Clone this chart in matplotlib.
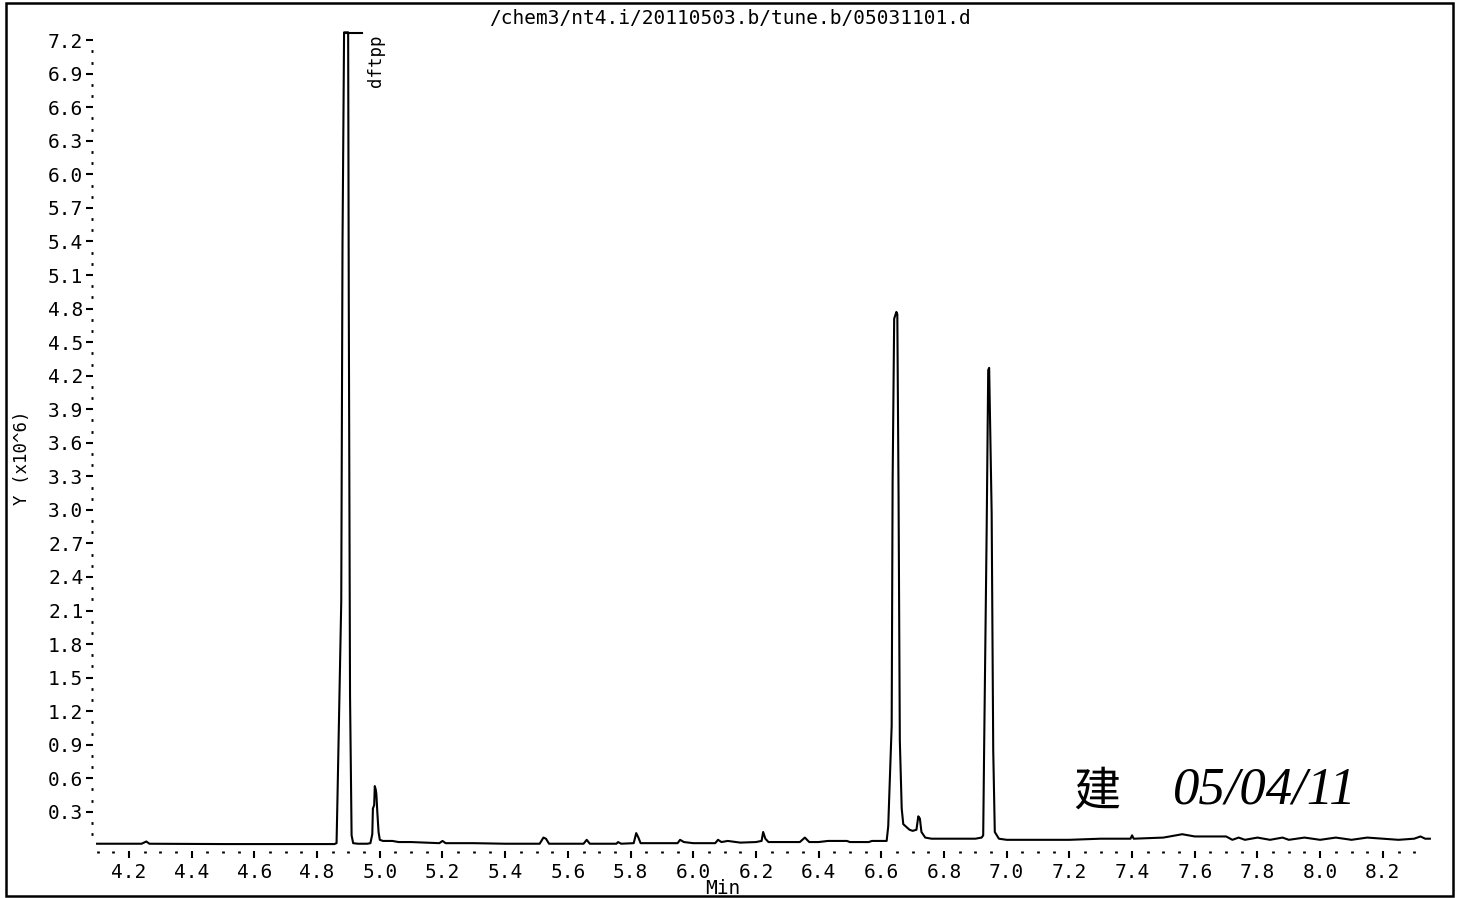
import numpy as np
import matplotlib
matplotlib.use("Agg")
import matplotlib.pyplot as plt
from matplotlib.patches import Rectangle

plt.rcParams['font.family'] = ['DejaVu Sans Mono', 'Noto Sans CJK SC']

# retention time (min) and abundance (x10^6)
rt = [4.098, 4.150, 4.240, 4.255, 4.265, 4.500, 4.700, 4.855,
      4.862, 4.865, 4.877, 4.881, 4.886, 4.899, 4.901, 4.905, 4.910, 4.915, 4.930, 4.960,
      4.970, 4.976, 4.978, 4.982, 4.984, 4.987, 4.989, 4.992, 4.996, 5.000,
      5.010, 5.040, 5.060, 5.100, 5.190, 5.200, 5.210, 5.300, 5.400,
      5.510, 5.522, 5.530, 5.540, 5.650, 5.660, 5.670, 5.755, 5.760, 5.770,
      5.810, 5.818, 5.825, 5.832, 5.950, 5.958, 5.970, 6.000, 6.070, 6.079, 6.090,
      6.110, 6.150, 6.200, 6.218, 6.223, 6.230, 6.240, 6.340, 6.356, 6.370,
      6.400, 6.430, 6.490, 6.500, 6.560, 6.570, 6.600, 6.612,
      6.617, 6.622, 6.633, 6.636, 6.641, 6.648, 6.651, 6.655, 6.659, 6.665, 6.670,
      6.690, 6.700, 6.712, 6.718, 6.723, 6.728, 6.740, 6.760, 6.800, 6.850, 6.900, 6.920,
      6.925, 6.928, 6.936, 6.941, 6.944, 6.952, 6.957, 6.962, 6.975,
      7.000, 7.100, 7.200, 7.300, 7.395, 7.400, 7.405, 7.500, 7.540, 7.560, 7.580, 7.600,
      7.700, 7.720, 7.740, 7.760, 7.800, 7.840, 7.880, 7.900, 7.950, 8.000, 8.050,
      8.100, 8.150, 8.200, 8.250, 8.300, 8.320, 8.335, 8.350]
ab = [0.015, 0.015, 0.015, 0.035, 0.015, 0.012, 0.012, 0.012,
      0.02, 0.43, 2.18, 5.38, 7.27, 7.27, 4.87, 1.34, 0.09, 0.02, 0.015, 0.015,
      0.02, 0.10, 0.33, 0.36, 0.53, 0.50, 0.46, 0.30, 0.12, 0.05,
      0.04, 0.04, 0.03, 0.03, 0.02, 0.04, 0.02, 0.02, 0.015,
      0.015, 0.07, 0.06, 0.015, 0.015, 0.05, 0.015, 0.015, 0.03, 0.015,
      0.02, 0.11, 0.07, 0.02, 0.02, 0.05, 0.03, 0.02, 0.02, 0.05, 0.03,
      0.04, 0.025, 0.03, 0.04, 0.12, 0.06, 0.03, 0.03, 0.07, 0.03,
      0.03, 0.04, 0.04, 0.03, 0.03, 0.04, 0.04, 0.04,
      0.04, 0.17, 1.07, 3.25, 4.71, 4.77, 4.75, 3.11, 0.94, 0.33, 0.19,
      0.14, 0.13, 0.14, 0.26, 0.24, 0.12, 0.07, 0.06, 0.06, 0.06, 0.06, 0.07,
      0.09, 0.87, 2.81, 4.25, 4.27, 2.97, 0.85, 0.12, 0.06,
      0.05, 0.05, 0.05, 0.06, 0.06, 0.09, 0.06, 0.07, 0.09, 0.10, 0.09, 0.08,
      0.08, 0.05, 0.07, 0.05, 0.07, 0.05, 0.07, 0.05, 0.07, 0.05, 0.07,
      0.05, 0.07, 0.06, 0.05, 0.06, 0.08, 0.06, 0.06]

xticks = [4.2, 4.4, 4.6, 4.8, 5.0, 5.2, 5.4, 5.6, 5.8, 6.0, 6.2, 6.4, 6.6, 6.8,
          7.0, 7.2, 7.4, 7.6, 7.8, 8.0, 8.2]
xlabels = ["4.2", "4.4", "4.6", "4.8", "5.0", "5.2", "5.4", "5.6", "5.8", "6.0", "6.2",
           "6.4", "6.6", "6.8", "7.0", "7.2", "7.4", "7.6", "7.8", "8.0", "8.2"]
yticks = [0.3, 0.6, 0.9, 1.2, 1.5, 1.8, 2.1, 2.4, 2.7, 3.0, 3.3, 3.6, 3.9, 4.2,
          4.5, 4.8, 5.1, 5.4, 5.7, 6.0, 6.3, 6.6, 6.9, 7.2]
ylabels = ["0.3", "0.6", "0.9", "1.2", "1.5", "1.8", "2.1", "2.4", "2.7", "3.0", "3.3",
           "3.6", "3.9", "4.2", "4.5", "4.8", "5.1", "5.4", "5.7", "6.0", "6.3", "6.6",
           "6.9", "7.2"]

title = "/chem3/nt4.i/20110503.b/tune.b/05031101.d"
peak_name = "dftpp"

fig = plt.figure(figsize=(14.6, 8.98), dpi=100)
ax = fig.add_axes([93/1460, 47/898, (1433-93)/1460, (869-47)/898])
ax.plot(rt, ab, color='black', lw=1.5)
ax.set_xlim(4.085, 8.36)
ax.set_ylim(-0.05, 7.3)
for s in ax.spines.values():
    s.set_visible(False)

ax.set_xticks(xticks)
ax.set_xticklabels(xlabels)
ax.set_xticks(np.arange(4.1, 8.34, 0.05), minor=True)
ax.set_yticks(yticks)
ax.set_yticklabels(ylabels)
ax.set_yticks(np.arange(0.1, 7.25, 0.1), minor=True)

ax.tick_params(axis='x', which='major', direction='out', length=5, width=1.5, pad=4, labelsize=14)
ax.tick_params(axis='y', which='major', direction='out', length=5, width=1.5, pad=2, labelsize=14)
ax.tick_params(which='minor', direction='out', length=1.5, width=2)

# peak label
ax.plot([4.889, 4.943], [7.265, 7.265], color='black', lw=1.5)
ax.text(4.988, 7.25, peak_name, rotation=90, ha='center', va='top', fontsize=12.5)

fig.text(0.5, 1 - 18/898, title, ha='center', va='center', fontsize=14)
fig.text(723/1460, 1 - 888/898, "Min", ha='center', va='center', fontsize=14)
fig.text(22/1460, 1 - 458/898, "Y (x10^6)", rotation=90, ha='center', va='center', fontsize=12.5)

# handwritten signature and date
fig.text(1097/1460, 1 - 792/898, "建", ha='center', va='center', fontsize=34,
         family='Noto Sans CJK SC', fontweight='light')
fig.text(1265/1460, 1 - 790/898, "05/04/11", ha='center', va='center', fontsize=38,
         family='Liberation Serif', style='italic')

fig.patches.append(Rectangle((6/1460, 2/898), 1447/1460, 893/898, transform=fig.transFigure,
                             fill=False, edgecolor='black', lw=1.8))

fig.savefig("out.png", dpi=100)
